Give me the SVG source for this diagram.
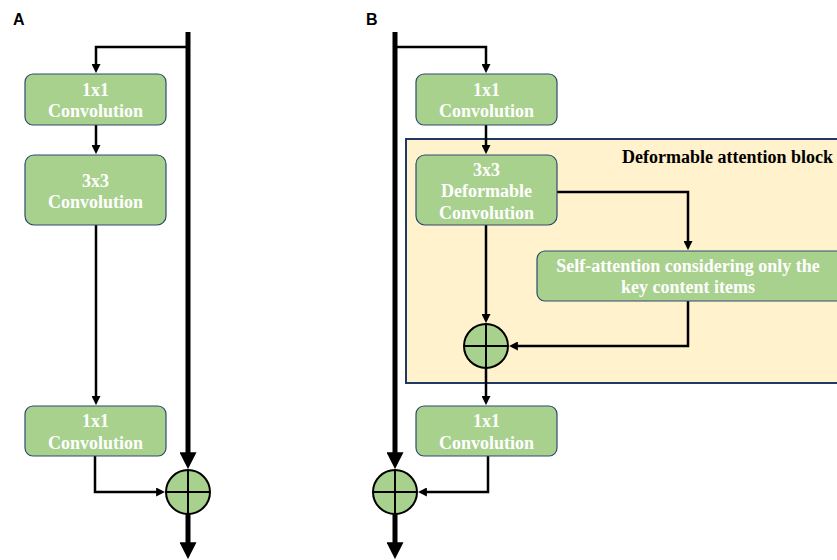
<svg xmlns="http://www.w3.org/2000/svg" width="837" height="560" viewBox="0 0 837 560">
<style>
.box{fill:#A9D18E;stroke:#2F4B70;stroke-width:1.2}
.t{font-family:"Liberation Serif","Times New Roman",serif;font-weight:bold;font-size:18px;fill:#FFFFFF;text-anchor:middle}
.lbl{font-family:"Liberation Sans",Arial,sans-serif;font-weight:bold;font-size:16px;fill:#000}
.thin{fill:none;stroke:#000;stroke-width:2.5;marker-end:url(#ah)}
.thick{fill:none;stroke:#000;stroke-width:5;marker-end:url(#ahb)}
.sum{fill:#A9D18E;stroke:#000;stroke-width:2}
.cross{stroke:#000;stroke-width:2}
</style>
<defs>
<marker id="ah" viewBox="0 0 10 10" markerWidth="9" markerHeight="9" markerUnits="userSpaceOnUse" refX="1" refY="5" orient="auto">
<path d="M0,0 L10,5 L0,10 z" fill="#000"/>
</marker>
<marker id="ahb" viewBox="0 0 10 10" markerWidth="17" markerHeight="17" markerUnits="userSpaceOnUse" refX="0.5" refY="5" orient="auto">
<path d="M0,0 L10,5 L0,10 z" fill="#000"/>
</marker>
</defs>
<rect width="837" height="560" fill="#FFFFFF"/>
<text class="lbl" x="13" y="25">A</text>
<text class="lbl" x="366" y="25">B</text>

<g id="attention-block">
<rect x="406" y="139" width="436" height="244" fill="#FFF2CC" stroke="#1F3864" stroke-width="2"/>
<text x="833" y="163" font-family="'Liberation Serif','Times New Roman',serif" font-weight="bold" font-size="18" fill="#000" text-anchor="end">Deformable attention block</text>
</g>

<g id="connectors">
<path class="thin" d="M188,47 H96 V65"/>
<path class="thin" d="M96,125 V146"/>
<path class="thin" d="M96,225 V397"/>
<path class="thin" d="M95,456 V492 H157"/>
<path class="thick" d="M188,32 V453"/>
<path class="thick" d="M188,514 V543"/>
<path class="thin" d="M395,47 H486 V65"/>
<path class="thin" d="M486,125 V146"/>
<path class="thin" d="M557,192 H688 V242"/>
<path class="thin" d="M486,225 V315"/>
<path class="thin" d="M688,301 V346 H517"/>
<path class="thin" d="M486,368 V397"/>
<path class="thin" d="M488,456 V492 H426"/>
<path class="thick" d="M395,32 V453"/>
<path class="thick" d="M395,514 V543"/>
</g>

<g id="a-conv1">
<rect class="box" x="25" y="74" width="141" height="51" rx="8"/>
<text class="t" x="95.5" y="96">1x1</text>
<text class="t" x="95.5" y="117">Convolution</text>
</g>
<g id="a-conv3">
<rect class="box" x="25" y="155" width="141" height="70" rx="9"/>
<text class="t" x="95.5" y="187">3x3</text>
<text class="t" x="95.5" y="208">Convolution</text>
</g>
<g id="a-conv1b">
<rect class="box" x="25" y="406" width="141" height="50" rx="8"/>
<text class="t" x="95.5" y="427">1x1</text>
<text class="t" x="95.5" y="449">Convolution</text>
</g>
<g id="a-sum">
<circle class="sum" cx="188" cy="492" r="22"/>
<line class="cross" x1="166" y1="492" x2="210" y2="492"/>
<line class="cross" x1="188" y1="470" x2="188" y2="514"/>
</g>

<g id="b-conv1">
<rect class="box" x="416" y="74" width="141" height="51" rx="8"/>
<text class="t" x="486.5" y="96">1x1</text>
<text class="t" x="486.5" y="117">Convolution</text>
</g>
<g id="b-deform">
<rect class="box" x="416" y="155" width="141" height="70" rx="9"/>
<text class="t" x="486.5" y="176">3x3</text>
<text class="t" x="486.5" y="197">Deformable</text>
<text class="t" x="486.5" y="219">Convolution</text>
</g>
<g id="b-selfatt">
<rect class="box" x="537" y="251" width="310" height="50" rx="8"/>
<text class="t" x="688" y="272">Self-attention considering only the</text>
<text class="t" x="688" y="293">key content items</text>
</g>
<g id="b-sum1">
<circle class="sum" cx="486" cy="346" r="22"/>
<line class="cross" x1="464" y1="346" x2="508" y2="346"/>
<line class="cross" x1="486" y1="324" x2="486" y2="368"/>
</g>
<g id="b-conv1b">
<rect class="box" x="416" y="406" width="141" height="50" rx="8"/>
<text class="t" x="486.5" y="427">1x1</text>
<text class="t" x="486.5" y="449">Convolution</text>
</g>
<g id="b-sum2">
<circle class="sum" cx="395" cy="492" r="22"/>
<line class="cross" x1="373" y1="492" x2="417" y2="492"/>
<line class="cross" x1="395" y1="470" x2="395" y2="514"/>
</g>
</svg>
